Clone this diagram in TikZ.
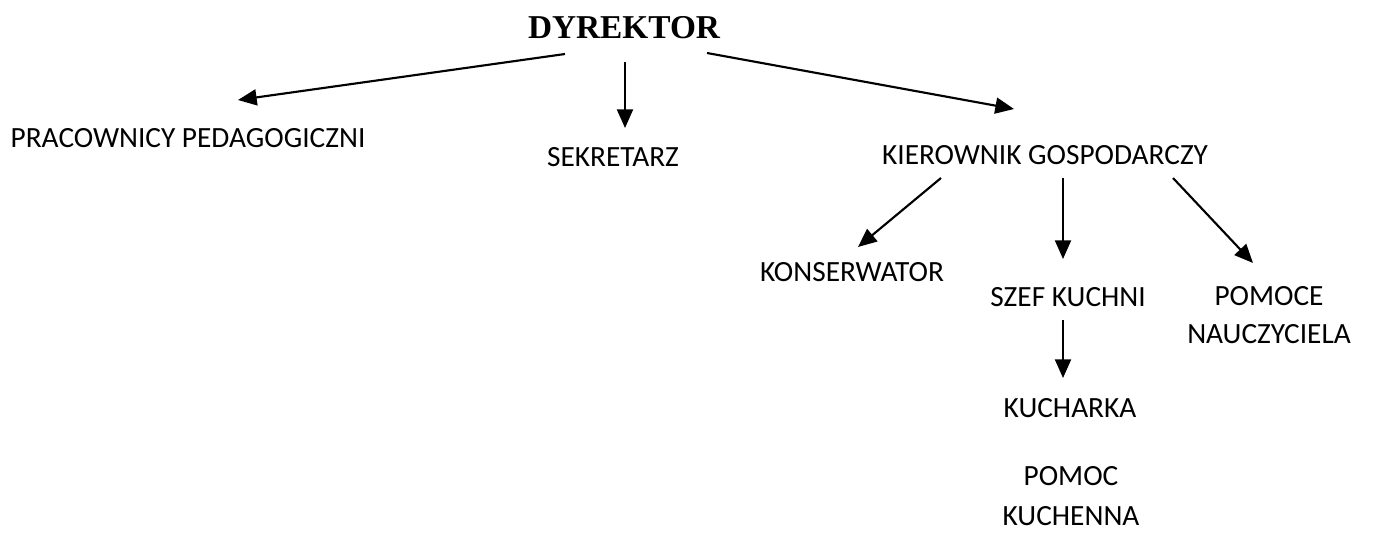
\documentclass[tikz,border=0pt]{standalone}
\usepackage{fontspec}
\setmainfont{Carlito}
\newfontfamily\titlefont{Liberation Serif}
\usetikzlibrary{arrows.meta}
\tikzset{
  post/.style={font=\fontsize{22}{25}\selectfont, inner sep=0pt, align=center},
  chief/.style={font=\titlefont\bfseries\fontsize{25}{28}\selectfont, inner sep=0pt},
  link/.style={line width=1.6pt, -{Triangle[length=14pt,width=12pt]}}
}
\begin{document}
\begin{tikzpicture}[x=0.75pt, y=-0.75pt]
            \useasboundingbox (0,0) rectangle (1376,532);
            % stanowiska
            \node[chief] (dyr) at (624,28) {DYREKTOR};
            \node[post] (ped) at (188,138) {PRACOWNICY PEDAGOGICZNI};
            \node[post] (sek) at (613,157) {SEKRETARZ};
            \node[post] (kier) at (1045,155) {KIEROWNIK GOSPODARCZY};
            \node[post] (kons) at (852,272) {KONSERWATOR};
            \node[post] (szef) at (1068,297) {SZEF KUCHNI};
            \node[post] (pomn) at (1269,315) {POMOCE\\[3pt]NAUCZYCIELA};
            \node[post] (kuch) at (1070,408) {KUCHARKA};
            \node[post] (pomk) at (1071,496) {POMOC\\[5.5pt]KUCHENNA};
            % punkty strzalek
            \coordinate (dyrL) at (565,54);
            \coordinate (dyrM) at (625,62);
            \coordinate (dyrR) at (707,53);
            \coordinate (pedT) at (238,100);
            \coordinate (sekT) at (625,128);
            \coordinate (kierT) at (1014,109);
            \coordinate (kierL) at (941,178);
            \coordinate (kierM) at (1063,178);
            \coordinate (kierR) at (1173,178);
            \coordinate (konsT) at (858,247);
            \coordinate (szefT) at (1063,259);
            \coordinate (pomnT) at (1253,263);
            \coordinate (szefB) at (1063,320);
            \coordinate (kuchT) at (1063,378);
            \draw[link] (dyrL) -- (pedT);
            \draw[link] (dyrM) -- (sekT);
            \draw[link] (dyrR) -- (kierT);
            \draw[link] (kierL) -- (konsT);
            \draw[link] (kierM) -- (szefT);
            \draw[link] (kierR) -- (pomnT);
            \draw[link] (szefB) -- (kuchT);
\end{tikzpicture}
\end{document}
